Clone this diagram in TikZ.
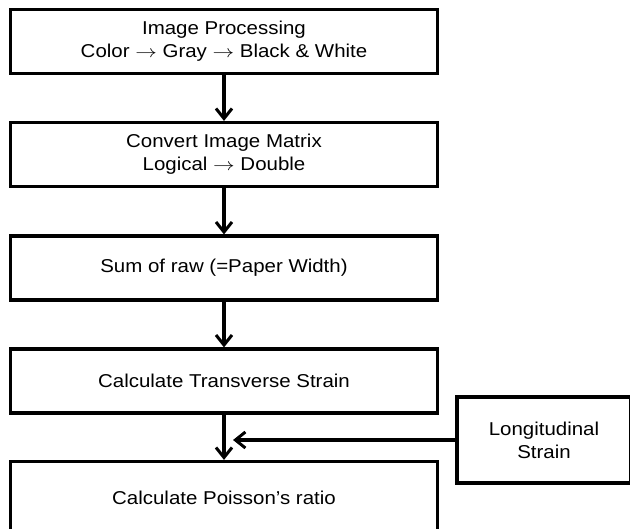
\documentclass[tikz,border=0pt]{standalone}
\usepackage{fontspec}
\setmainfont[FakeStretch=1.1]{Liberation Sans}
\usetikzlibrary{arrows.meta}
\newcommand{\conv}{\scalebox{1.25}[1]{$\rightarrow$}}
\tikzset{
  stepbox/.style={draw, line width=3.2pt, minimum width=427pt, minimum height=64pt, align=center, inner sep=0pt},
  flow/.style={line width=3.2pt, -{Straight Barb[length=10pt,width=16pt,line width=3pt]}}
}
\begin{document}
\begin{tikzpicture}[x=1pt,y=1pt,yscale=-1,xscale=1,font=\fontsize{18.6}{23}\selectfont]
\useasboundingbox (0,0) rectangle (630,529);

% Steps
\node [stepbox] (proc) at (224,41.5) {Image Processing\\Color \conv{} Gray \conv{} Black \& White};
\node [stepbox] (conv) at (224,154.5) {Convert Image Matrix\\Logical \conv{} Double};
\node [stepbox] (sum) at (224,268) {Sum of raw (=Paper Width)};
\node [stepbox] (trans) at (224,381) {Calculate Transverse Strain};
\node [stepbox, minimum height=72pt] (pois) at (224,497.5) {Calculate Poisson’s ratio};

% Side input
\node [stepbox, minimum width=174pt, minimum height=86pt] (longi) at (544,440) {Longitudinal\\Strain};
\coordinate (join) at (233,440);

% Arrows
\draw [flow] (proc) -- (conv);
\draw [flow] (conv) -- (sum);
\draw [flow] (sum) -- (trans);
\draw [flow] (trans) -- (pois);
\draw [flow] (longi) -- (join);
\end{tikzpicture}
\end{document}
